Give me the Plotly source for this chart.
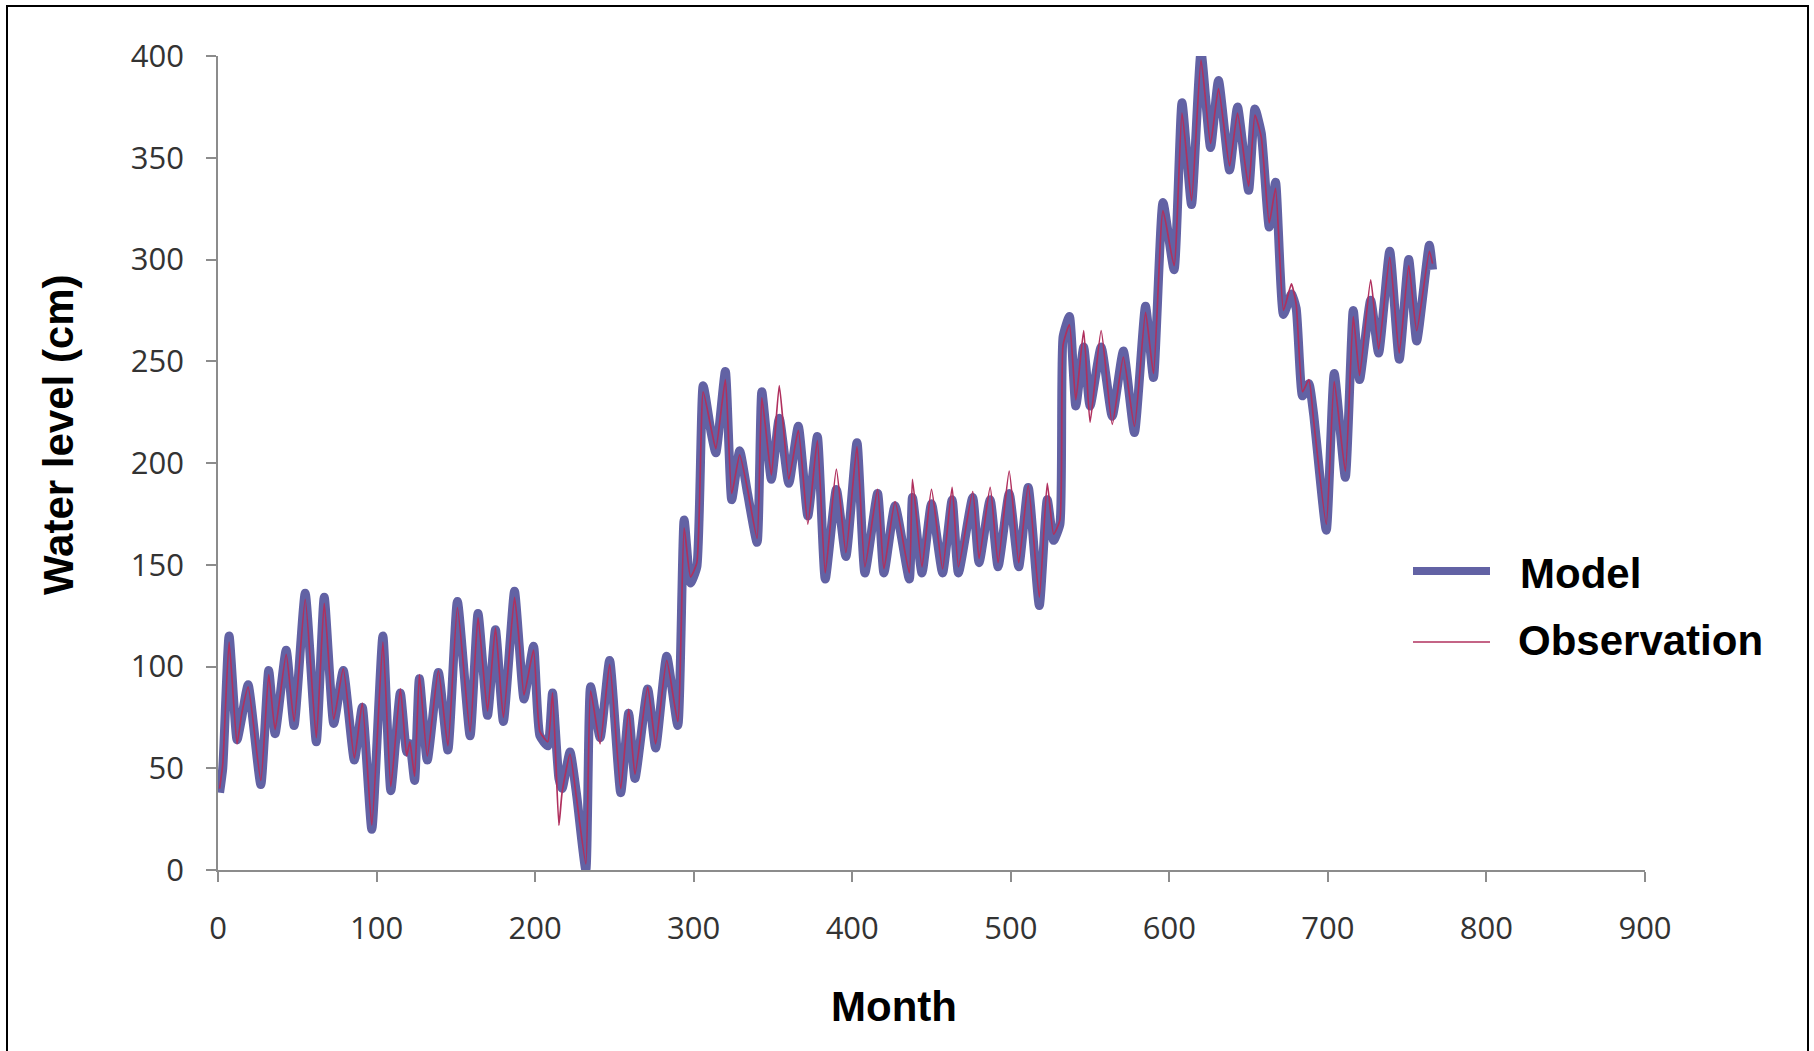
import plotly.graph_objects as go

# Monthly water level, model vs observation (turning points of each cycle)
months = [1, 3, 7, 12, 15, 19, 27, 32, 36, 43, 48, 55, 62, 67, 73, 79, 86, 91, 97,
          104, 109, 115, 119, 121, 124, 127, 132, 139, 145, 151, 159, 164, 170, 175,
          180, 187, 190, 193, 199, 203, 208, 211, 215, 217, 222, 226, 232, 235, 241,
          247, 254, 259, 263, 271, 276, 283, 290, 294, 298, 302, 306, 311, 314, 320,
          324, 329, 334, 340, 343, 349, 354, 360, 366, 372, 378, 383, 390, 396, 403,
          408, 416, 420, 427, 436, 438, 444, 450, 457, 463, 467, 476, 480, 487, 492,
          499, 505, 511, 518, 523, 527, 531, 533, 537, 541, 546, 550, 557, 564, 571,
          578, 585, 590, 596, 603, 608, 614, 620, 626, 631, 638, 643, 650, 654, 658,
          663, 667, 672, 677, 680, 684, 688, 691, 699, 704, 711, 716, 720, 727, 732,
          739, 745, 751, 756, 764, 766]

model = [38, 50, 115, 64, 75, 91, 42, 98, 67, 108, 71, 136, 63, 134, 72, 98, 54, 80, 20,
         115, 39, 87, 58, 62, 44, 94, 54, 97, 59, 132, 66, 126, 76, 118,
         73, 137, 110, 84, 110, 66, 61, 87, 45, 40, 58, 38, 0, 90, 65,
         103, 38, 77, 45, 89, 60, 105, 71, 172, 141, 149, 238, 215, 205, 245,
         182, 206, 185, 161, 235, 192, 222, 190, 218, 174, 213, 143, 187, 154, 210,
         146, 185, 146, 179, 143, 183, 146, 180, 146, 182, 146, 183, 151, 182, 149,
         185, 149, 188, 130, 182, 162, 170, 262, 272, 228, 257, 228, 257, 223, 255,
         215, 277, 242, 328, 295, 377, 327, 402, 355, 388, 344, 375, 334, 374, 362,
         316, 338, 273, 283, 276, 233, 239, 224, 167, 244, 193, 275, 241, 280, 254,
         304, 251, 300, 260, 307, 295]

observation = [40, 52, 112, 62, 77, 90, 44, 96, 69, 106, 73, 133, 65, 131, 74, 99, 55, 82, 22,
               112, 41, 89, 56, 63, 46, 96, 56, 98, 61, 129, 68, 124, 78, 119,
               75, 134, 112, 86, 108, 68, 63, 87, 22, 38, 57, 36, 3, 88, 62,
               101, 40, 79, 47, 90, 62, 103, 73, 168, 144, 151, 235, 217, 207, 241,
               185, 204, 187, 163, 232, 194, 238, 192, 216, 170, 211, 146, 197, 156, 208,
               149, 187, 148, 181, 146, 192, 149, 187, 148, 188, 149, 186, 153, 188, 151,
               196, 151, 189, 134, 190, 165, 172, 258, 268, 231, 265, 220, 265, 219, 252,
               218, 274, 244, 324, 297, 372, 329, 398, 357, 384, 346, 372, 336, 371, 360,
               318, 335, 275, 288, 278, 235, 241, 221, 170, 240, 196, 272, 243, 290, 256,
               301, 254, 297, 265, 304, 298]

series_names = ["Model", "Observation"]
x_ticks = [0, 100, 200, 300, 400, 500, 600, 700, 800, 900]
y_ticks = [0, 50, 100, 150, 200, 250, 300, 350, 400]

MODEL_COLOR = "#6262A4"
OBS_COLOR = "#B0305E"
AXIS_COLOR = "#8C8C8C"

W, H = 1814, 1051
L, R, T, B = 218, 169, 56, 181
PW, PH = W - L - R, H - T - B


def px(x):
    return (x - L) / PW


def py(y):
    return (H - B - y) / PH


fig = go.Figure()
fig.add_trace(go.Scatter(x=months, y=model, mode="lines", name=series_names[0],
                         line=dict(color=MODEL_COLOR, width=9, shape="spline",
                                   smoothing=0.5),
                         showlegend=False))
fig.add_trace(go.Scatter(x=months, y=observation, mode="lines", name=series_names[1],
                         line=dict(color=OBS_COLOR, width=1.7, shape="spline",
                                   smoothing=0.5),
                         showlegend=False))

tick_font = dict(family="Open Sans", size=31, color="#333333")
title_font = dict(family="Liberation Sans", size=42, color="#000000")

fig.update_xaxes(range=[0, 900], tickvals=x_ticks, ticktext=[str(v) for v in x_ticks],
                 showgrid=False, zeroline=False, showline=True, linecolor=AXIS_COLOR,
                 linewidth=1.5, ticks="outside", ticklen=10, tickwidth=1.5,
                 tickcolor=AXIS_COLOR, tickfont=tick_font, ticklabelstandoff=20)
fig.update_yaxes(range=[0, 400], tickvals=y_ticks, ticktext=[str(v) for v in y_ticks],
                 showgrid=False, zeroline=False, showline=True, linecolor=AXIS_COLOR,
                 linewidth=1.5, ticks="outside", ticklen=10, tickwidth=1.5,
                 tickcolor=AXIS_COLOR, tickfont=tick_font, ticklabelstandoff=16)

annotations = [
    dict(text="<b>Month</b>", x=px(894), y=py(1006), xref="paper", yref="paper",
         xanchor="center", yanchor="middle", showarrow=False, font=title_font),
    dict(text="<b>Water level (cm)</b>", x=px(58), y=py(435), xref="paper", yref="paper",
         xanchor="center", yanchor="middle", showarrow=False, textangle=-90, font=title_font),
    dict(text="<b>%s</b>" % series_names[0], x=px(1518), y=py(573), xref="paper",
         yref="paper", xanchor="left", yanchor="middle", showarrow=False, font=title_font),
    dict(text="<b>%s</b>" % series_names[1], x=px(1516), y=py(640), xref="paper",
         yref="paper", xanchor="left", yanchor="middle", showarrow=False, font=title_font),
]

shapes = [
    # legend samples
    dict(type="line", xref="paper", yref="paper", x0=px(1413), x1=px(1490),
         y0=py(571), y1=py(571), line=dict(color=MODEL_COLOR, width=8)),
    dict(type="line", xref="paper", yref="paper", x0=px(1413), x1=px(1490),
         y0=py(642), y1=py(642), line=dict(color=OBS_COLOR, width=1.5)),
    # outer frame
    dict(type="rect", xref="paper", yref="paper", x0=px(7), x1=px(1808),
         y0=py(1062), y1=py(6), line=dict(color="#000000", width=2)),
]

fig.update_layout(width=W, height=H, margin=dict(l=L, r=R, t=T, b=B),
                  plot_bgcolor="white", paper_bgcolor="white",
                  annotations=annotations, shapes=shapes, showlegend=False)

fig.write_html("out.html")
